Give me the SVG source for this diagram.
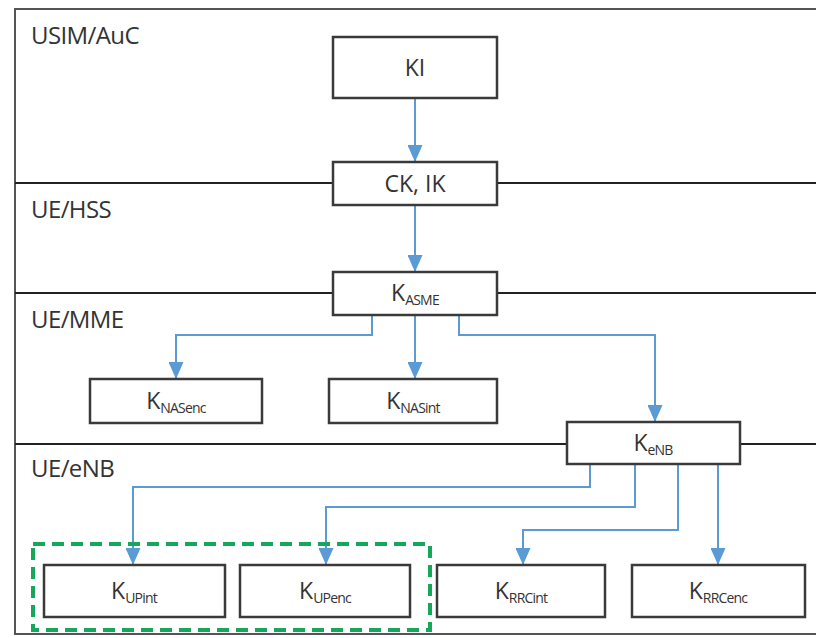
<svg xmlns="http://www.w3.org/2000/svg" width="816" height="638" viewBox="0 0 816 638">
  <style>
    .frame { fill: none; stroke: #555; stroke-width: 2; }
    .sep { stroke: #222; stroke-width: 2; }
    .lane { font-family: "Open Sans", "Liberation Sans", sans-serif; font-size: 24px; fill: #333; letter-spacing: -0.6px; }
    .box { fill: #fff; stroke: #3a3a3a; stroke-width: 2.5; }
    .lbl { font-family: "Open Sans", "Liberation Sans", sans-serif; font-size: 23px; fill: #333; text-anchor: middle; }
    .sub { font-size: 14px; letter-spacing: -0.8px; }
    .conn { fill: none; stroke: #5b9bd5; stroke-width: 2; marker-end: url(#arrow); }
    .group { fill: none; stroke: #16a85a; stroke-width: 4; stroke-dasharray: 12 7; }
  </style>
  <defs>
    <marker id="arrow" viewBox="0 0 17 15" refX="17" refY="7.5" markerWidth="17" markerHeight="15" markerUnits="userSpaceOnUse" orient="auto">
      <path d="M0,0 L17,7.5 L0,15 Z" fill="#5b9bd5"/>
    </marker>
  </defs>
  <rect width="816" height="638" fill="#fff"/>

  <!-- outer frame and domain separators -->
  <rect class="frame" x="15" y="9" width="812" height="625"/>
  <line class="sep" x1="15" y1="183" x2="816" y2="183"/>
  <line class="sep" x1="15" y1="293" x2="816" y2="293"/>
  <line class="sep" x1="15" y1="444" x2="816" y2="444"/>

  <!-- domain labels -->
  <text class="lane" x="31" y="44">USIM/AuC</text>
  <text class="lane" x="31" y="218">UE/HSS</text>
  <text class="lane" x="31" y="328">UE/MME</text>
  <text class="lane" x="31" y="477">UE/eNB</text>

  <!-- connectors -->
  <g id="connectors">
    <path class="conn" d="M415,98 V162"/>
    <path class="conn" d="M415,205 V272"/>
    <path class="conn" d="M372,315 V335 H176 V379"/>
    <path class="conn" d="M415,315 V379"/>
    <path class="conn" d="M459,315 V335 H655 V422"/>
    <path class="conn" d="M590,464 V487 H133 V565"/>
    <path class="conn" d="M635,464 V507 H326 V565"/>
    <path class="conn" d="M678,464 V530 H523 V565"/>
    <path class="conn" d="M718,464 V565"/>
  </g>

  <!-- key nodes -->
  <g id="ki">
    <rect class="box" x="333" y="37" width="164" height="61"/>
    <text class="lbl" x="415" y="76">KI</text>
  </g>
  <g id="ck-ik">
    <rect class="box" x="333" y="162" width="164" height="43"/>
    <text class="lbl" x="415" y="192">CK, IK</text>
  </g>
  <g id="kasme">
    <rect class="box" x="333" y="272" width="164" height="43"/>
    <text class="lbl" x="415" y="301">K<tspan class="sub" dy="4">ASME</tspan></text>
  </g>
  <g id="knasenc">
    <rect class="box" x="90" y="379" width="172" height="44"/>
    <text class="lbl" x="176" y="409">K<tspan class="sub" dy="4">NASenc</tspan></text>
  </g>
  <g id="knasint">
    <rect class="box" x="329" y="379" width="168" height="44"/>
    <text class="lbl" x="413" y="409">K<tspan class="sub" dy="4">NASint</tspan></text>
  </g>
  <g id="kenb">
    <rect class="box" x="567" y="422" width="173" height="42"/>
    <text class="lbl" x="653" y="451">K<tspan class="sub" dy="4">eNB</tspan></text>
  </g>
  <g id="kupint">
    <rect class="box" x="44" y="565" width="181" height="52"/>
    <text class="lbl" x="134" y="599">K<tspan class="sub" dy="4">UPint</tspan></text>
  </g>
  <g id="kupenc">
    <rect class="box" x="240" y="565" width="170" height="52"/>
    <text class="lbl" x="325" y="599">K<tspan class="sub" dy="4">UPenc</tspan></text>
  </g>
  <g id="krrcint">
    <rect class="box" x="437" y="565" width="168" height="52"/>
    <text class="lbl" x="521" y="599">K<tspan class="sub" dy="4">RRCint</tspan></text>
  </g>
  <g id="krrcenc">
    <rect class="box" x="632" y="565" width="173" height="52"/>
    <text class="lbl" x="718" y="599">K<tspan class="sub" dy="4">RRCenc</tspan></text>
  </g>

  <!-- user-plane key grouping -->
  <rect class="group" x="33" y="544" width="397" height="86"/>
</svg>
